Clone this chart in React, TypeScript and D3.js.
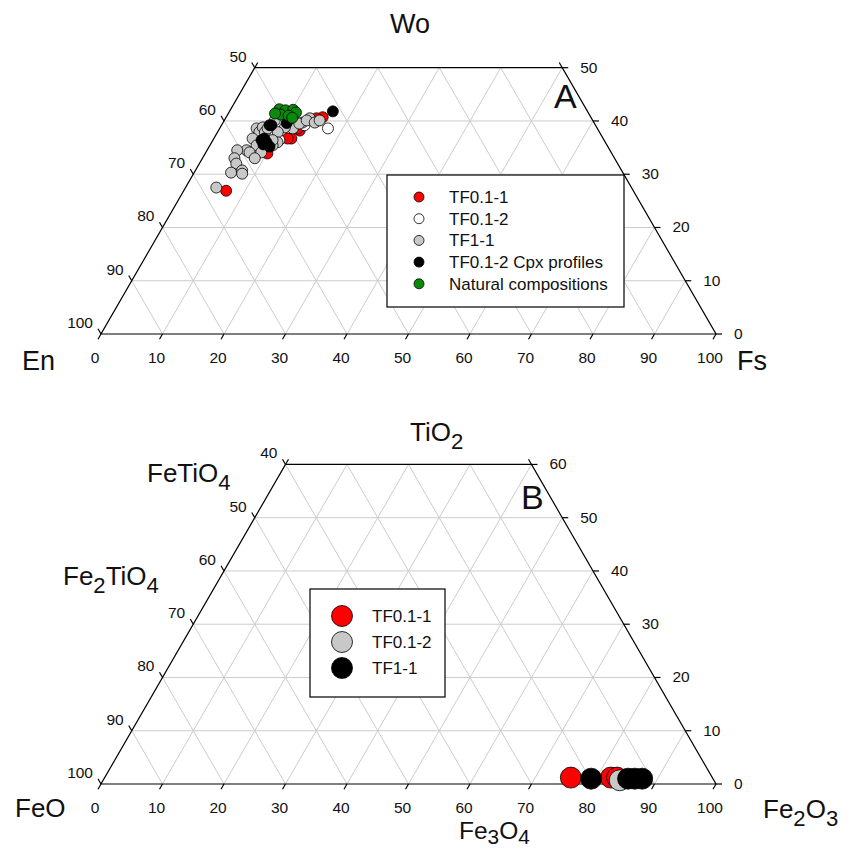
import React, { useEffect, useRef } from "react";
import * as d3 from "d3";

// ternary values stored as [Wo, Fs] (En = 100 - Wo - Fs)
const tf011 = [
  [40.7, 15.7], [40.5, 14.8], [38.2, 13.2], [36.7, 12.6], [36.7, 12.0],
  [38.6, 12.7], [33.9, 10.1], [26.9, 6.9],
];
const tf012 = [
  [38.6, 17.6], [39.2, 13.5], [36.4, 10.8], [36.4, 7.2],
];
const tf11 = [
  [40.5, 13.7], [39.7, 12.9], [38.6, 11.9], [38.8, 10.5], [38.6, 6.0],
  [37.9, 6.8], [38.8, 6.9], [37.9, 9.8], [36.0, 10.7], [35.4, 10.2],
  [36.7, 6.3], [35.4, 7.6], [34.5, 6.4], [34.1, 7.1], [34.5, 4.9],
  [34.1, 9.0], [33.0, 5.2], [32.0, 6.0], [30.3, 6.0], [30.7, 7.6],
  [30.1, 7.9], [33.0, 8.5], [27.5, 5.0], [39.5, 12.5], [40.1, 13.4],
  [36.4, 9.7], [37.9, 7.7], [38.6, 7.8], [40.1, 8.2], [39.7, 14.9],
  [40.1, 15.5],
];
const cpxProfiles = [
  [41.8, 16.8], [39.2, 8.1], [36.7, 8.2], [36.0, 8.9], [36.4, 7.9],
  [39.2, 7.8], [35.2, 9.8], [35.6, 8.6], [39.6, 10.4],
];
const natural = [
  [42.2, 7.9], [42.0, 9.0], [42.1, 10.2], [41.6, 10.9], [41.2, 8.6],
  [41.0, 10.0], [40.6, 10.8], [41.4, 7.6],
];

// panel B stored as [TiO2, Fe2O3]
const oxTF011 = [[1.2, 75.8], [1.2, 82.3], [1.2, 83.3]];
const oxTF012 = [[0.7, 84.0]];
const oxTF11 = [[1.0, 79.2], [1.0, 85.2], [1.0, 86.3], [1.0, 87.5]];

const legendA = ["TF0.1-1", "TF0.1-2", "TF1-1", "TF0.1-2 Cpx profiles", "Natural compositions"];
const legendB = ["TF0.1-1", "TF0.1-2", "TF1-1"];
const ticks = d3.range(0, 101, 10);

const RED = "#ff0000";
const WHITE = "#ffffff";
const GREY = "#c8c8c8";
const BLACK = "#000000";
const GREEN = "#0a8a0a";
const FONT = "Arial, 'Liberation Sans', sans-serif";

function drawPanel(svg, opt) {
  const { x0, yb, L, top } = opt;
  const xs = d3.scaleLinear().domain([0, 100]).range([x0, x0 + L]);
  const ys = d3.scaleLinear().domain([0, 100]).range([yb, yb - (L * Math.sqrt(3)) / 2]);
  const px = (wo, fs) => xs(fs + wo / 2);
  const py = (wo) => ys(wo);
  const g = svg.append("g");

  // grid
  const grid = [];
  d3.range(10, 100, 10).forEach((v) => {
    if (v < top) grid.push([[v, 0], [v, 100 - v]]);
    grid.push([[0, v], [Math.min(top, 100 - v), v]]);
    const w = Math.min(top, 100 - v);
    grid.push([[0, 100 - v], [w, 100 - v - w]]);
  });
  g.selectAll(".grid")
    .data(grid)
    .enter()
    .append("line")
    .attr("x1", (d) => px(d[0][0], d[0][1]))
    .attr("y1", (d) => py(d[0][0]))
    .attr("x2", (d) => px(d[1][0], d[1][1]))
    .attr("y2", (d) => py(d[1][0]))
    .attr("stroke", "#cccccc")
    .attr("stroke-width", 1);

  // outline
  const outline = [[0, 0], [0, 100], [top, 100 - top], [top, 0]];
  g.append("polygon")
    .attr("points", outline.map((d) => `${px(d[0], d[1])},${py(d[0])}`).join(" "))
    .attr("fill", "none")
    .attr("stroke", "#000")
    .attr("stroke-width", 1.2);

  const t = 6;
  const c = Math.sqrt(3) / 2;
  // side edges poke slightly above the top edge
  g.append("line")
    .attr("x1", px(top, 0)).attr("y1", py(top))
    .attr("x2", px(top, 0) + t * 0.5).attr("y2", py(top) - t * c)
    .attr("stroke", "#000").attr("stroke-width", 1.2);
  g.append("line")
    .attr("x1", px(top, 100 - top)).attr("y1", py(top))
    .attr("x2", px(top, 100 - top) - t * 0.5).attr("y2", py(top) - t * c)
    .attr("stroke", "#000").attr("stroke-width", 1.2);

  const tickText = (sel) =>
    sel.attr("font-family", FONT).attr("font-size", 15.5).attr("fill", "#111");

  // bottom axis
  ticks.forEach((f) => {
    const x = px(0, f);
    const y = py(0);
    g.append("line")
      .attr("x1", x).attr("y1", y).attr("x2", x - t * 0.5).attr("y2", y + t * c)
      .attr("stroke", "#000").attr("stroke-width", 1.2);
    tickText(g.append("text"))
      .attr("x", x - 6).attr("y", y + 29)
      .attr("text-anchor", "middle")
      .text(f);
  });

  // left axis
  ticks.filter((v) => 100 - v <= top).forEach((v) => {
    const wo = 100 - v;
    const x = px(wo, 0);
    const y = py(wo);
    g.append("line")
      .attr("x1", x).attr("y1", y).attr("x2", x - t * 0.5).attr("y2", y - t * c)
      .attr("stroke", "#000").attr("stroke-width", 1.2);
    tickText(g.append("text"))
      .attr("x", x - 8).attr("y", y - 6)
      .attr("text-anchor", "end")
      .text(v);
  });

  // right axis
  ticks.filter((w) => w <= top).forEach((w) => {
    const x = px(w, 100 - w);
    const y = py(w);
    g.append("line")
      .attr("x1", x).attr("y1", y).attr("x2", x + t).attr("y2", y)
      .attr("stroke", "#000").attr("stroke-width", 1.2);
    tickText(g.append("text"))
      .attr("x", x + 18).attr("y", y + 5)
      .attr("text-anchor", "start")
      .text(w);
  });

  // data
  opt.series.forEach((s) => {
    g.selectAll(null)
      .data(s.data)
      .enter()
      .append("circle")
      .attr("cx", (d) => px(d[0], d[1]))
      .attr("cy", (d) => py(d[0]))
      .attr("r", opt.r)
      .attr("fill", s.color)
      .attr("stroke", "#000")
      .attr("stroke-width", 0.8);
  });

  // legend
  const lg = opt.legend;
  g.append("rect")
    .attr("x", lg.x).attr("y", lg.y).attr("width", lg.w).attr("height", lg.h)
    .attr("fill", "#fff").attr("stroke", "#000").attr("stroke-width", 1.2);
  lg.labels.forEach((lab, i) => {
    const cy = lg.y + lg.first + i * lg.step;
    g.append("circle")
      .attr("cx", lg.mx).attr("cy", cy).attr("r", lg.r)
      .attr("fill", lg.colors[i]).attr("stroke", "#000").attr("stroke-width", 0.8);
    g.append("text")
      .attr("x", lg.tx).attr("y", cy + 6)
      .attr("font-family", FONT).attr("font-size", 17).attr("fill", "#111")
      .text(lab);
  });
}

// text with subscripts: parts = [[text, isSub], ...]
function label(svg, x, y, size, parts, shift = 0.3) {
  const t = svg.append("text")
    .attr("x", x).attr("y", y)
    .attr("font-family", FONT).attr("font-size", size).attr("fill", "#111");
  let down = false;
  parts.forEach(([s, sub]) => {
    const sp = t.append("tspan").text(s);
    if (sub && !down) { sp.attr("dy", size * shift).attr("font-size", size * 0.85); down = true; }
    else if (sub) sp.attr("font-size", size * 0.85);
    else if (!sub && down) { sp.attr("dy", -size * shift); down = false; }
  });
}

export default function App() {
  const ref = useRef(null);

  useEffect(() => {
    const svg = d3.select(ref.current);
    svg.selectAll("*").remove();
    svg.append("rect").attr("width", 851).attr("height", 850).attr("fill", "#fff");

    drawPanel(svg, {
      x0: 101, yb: 334, L: 615, top: 50, r: 5.5,
      series: [
        { data: tf011, color: RED },
        { data: tf012, color: WHITE },
        { data: tf11, color: GREY },
        { data: cpxProfiles, color: BLACK },
        { data: natural, color: GREEN },
      ],
      legend: {
        x: 387, y: 175, w: 237, h: 132, first: 22, step: 21.7, mx: 419, tx: 449, r: 5,
        labels: legendA, colors: [RED, WHITE, GREY, BLACK, GREEN],
      },
    });

    drawPanel(svg, {
      x0: 101, yb: 784, L: 615, top: 60, r: 10.5,
      series: [
        { data: oxTF011, color: RED },
        { data: oxTF012, color: GREY },
        { data: oxTF11, color: BLACK },
      ],
      legend: {
        x: 310, y: 589, w: 135, h: 108, first: 27, step: 26, mx: 342, tx: 372, r: 10.5,
        labels: legendB, colors: [RED, GREY, BLACK],
      },
    });

    label(svg, 390, 33, 27, [["Wo", false]]);
    label(svg, 22, 370, 27, [["En", false]]);
    label(svg, 737, 370, 27, [["Fs", false]]);
    label(svg, 554, 108, 34, [["A", false]]);

    label(svg, 410, 441, 26, [["TiO", false], ["2", true]]);
    label(svg, 147, 482, 26, [["FeTiO", false], ["4", true]]);
    label(svg, 63, 585, 26, [["Fe", false], ["2", true], ["TiO", false], ["4", true]]);
    label(svg, 15, 817, 26, [["FeO", false]]);
    label(svg, 459, 839, 24.5, [["Fe", false], ["3", true], ["O", false], ["4", true]], 0.2);
    label(svg, 763, 818, 26, [["Fe", false], ["2", true], ["O", false], ["3", true]]);
    label(svg, 521, 509, 34, [["B", false]]);
  }, []);

  return (
    <svg
      ref={ref}
      width={851}
      height={850}
      style={{ position: "absolute", left: 0, top: 0, display: "block" }}
    />
  );
}
